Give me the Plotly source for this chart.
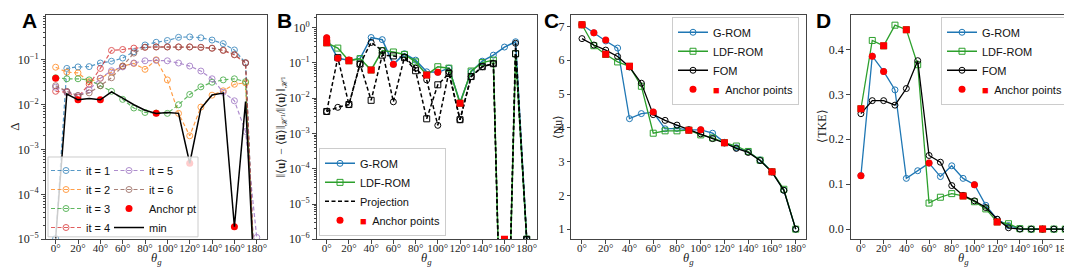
import plotly.graph_objects as go

W, H = 1072, 267

# ---------------- data ----------------
theta = list(range(0, 181, 10))
theta_ticks = list(range(0, 181, 20))
theta_labels = [f"{t}°" for t in theta_ticks]

# Panel A : Delta per iteration (log scale)
it1 = [1.05e-5, 0.063, 0.068, 0.069, 0.083, 0.091, 0.107, 0.148, 0.209, 0.240, 0.263, 0.309, 0.316, 0.302, 0.269, 0.224, 0.162, 0.083, 1e-7]
it2 = [0.067, 0.052, 0.050, 0.032, 0.038, 0.052, 0.071, 0.081, 0.060, 0.098, 0.035, 0.0063, 0.002, 0.0087, 0.016, 0.020, 0.028, 0.030, 1e-7]
it3 = [0.039, 0.037, 0.037, 0.035, 0.026, 0.0195, 0.0129, 0.0083, 0.0066, 0.0064, 0.0063, 0.0098, 0.0166, 0.0245, 0.031, 0.035, 0.037, 0.032, 1e-7]
it4 = [0.0195, 0.0186, 0.0145, 0.028, 0.063, 0.158, 0.166, 0.178, 0.186, 0.19, 0.19, 0.19, 0.19, 0.186, 0.178, 0.158, 0.126, 0.083, 1e-7]
it5 = [0.024, 0.019, 0.0155, 0.021, 0.038, 0.056, 0.068, 0.083, 0.093, 0.095, 0.093, 0.083, 0.071, 0.055, 0.037, 0.0186, 0.012, 0.0025, 1.1e-5]
it6 = [0.026, 0.0195, 0.0158, 0.018, 0.026, 0.039, 0.071, 0.138, 0.186, 0.188, 0.188, 0.188, 0.188, 0.184, 0.176, 0.160, 0.128, 0.085, 1e-7]
delta_min = [1.05e-5, 0.017, 0.0126, 0.0135, 0.0126, 0.019, 0.0138, 0.0098, 0.0074, 0.0063, 0.0066, 0.0063, 0.00049, 0.0081, 0.0162, 0.0178, 1.9e-5, 0.0115, 1e-7]
anchorA_theta = [0, 20, 40, 90, 120, 160]
anchorA_val = [0.038, 0.0126, 0.0126, 0.0063, 0.00049, 1.9e-5]

# Panel B : relative H1 error (log scale)
errB_grom = [0.51, 0.135, 0.12, 0.132, 0.525, 0.457, 0.091, 0.182, 0.12, 0.056, 0.054, 0.071, 0.0076, 0.056, 0.112, 0.166, 0.282, 0.398, 1e-6]
errB_ldf = [0.37, 0.263, 0.115, 0.132, 0.063, 0.224, 0.204, 0.174, 0.107, 0.0457, 0.078, 0.071, 0.0072, 0.059, 0.102, 0.12, 1e-13, 0.182, 1e-6]
errB_proj_ldf = [0.0042, 0.141, 0.0066, 0.093, 0.0087, 0.166, 0.158, 0.141, 0.060, 0.0026, 0.024, 0.050, 0.00245, 0.041, 0.078, 0.095, 1e-13, 0.182, 1e-6]
errB_proj_g = [0.0042, 0.0055, 0.0066, 0.093, 0.38, 0.224, 0.0079, 0.148, 0.071, 0.033, 0.0017, 0.056, 0.00245, 0.041, 0.078, 0.095, 1e-13, 0.36, 1e-6]

# anchor points (circles: G-ROM, squares: LDF-ROM)
anc_circ_theta = [0, 10, 20, 60, 100]
anc_sq_theta = [0, 20, 40, 90, 120, 160]
errB_anc_circ = [0.52, 0.135, 0.12, 0.091, 0.054]
errB_anc_sq = [0.37, 0.115, 0.063, 0.0457, 0.0072, 1e-6]

# Panel C : Nu
nu_fom = [6.64, 6.45, 6.30, 6.11, 5.80, 5.32, 4.39, 4.22, 4.08, 3.94, 3.82, 3.68, 3.55, 3.39, 3.27, 3.03, 2.69, 2.15, 1.0]
nu_grom = [7.05, 6.81, 6.57, 6.36, 4.27, 4.42, 4.46, 3.97, 3.98, 3.94, 3.94, 3.84, 3.57, 3.41, 3.29, 3.05, 2.70, 2.15, 1.0]
nu_ldf = [7.05, 6.43, 6.17, 5.95, 5.82, 5.23, 3.84, 3.91, 3.91, 3.93, 3.79, 3.70, 3.56, 3.46, 3.30, 3.04, 2.70, 2.18, 1.0]
nu_anc_circ = [7.05, 6.81, 6.60, 4.47, 3.94]
nu_anc_sq = [7.05, 6.18, 5.82, 3.93, 3.56, 2.70]

# Panel D : TKE
tke_fom = [0.257, 0.286, 0.286, 0.276, 0.313, 0.375, 0.164, 0.149, 0.097, 0.075, 0.063, 0.048, 0.022, 0.003, 0.0, 0.0, 0.0, 0.0, 0.0]
tke_grom = [0.119, 0.385, 0.351, 0.310, 0.113, 0.130, 0.147, 0.117, 0.141, 0.113, 0.099, 0.053, 0.022, 0.008, 0.001, 0.0, 0.0, 0.0, 0.0]
tke_ldf = [0.268, 0.420, 0.408, 0.454, 0.444, 0.366, 0.058, 0.071, 0.079, 0.074, 0.061, 0.045, 0.016, 0.012, 0.001, 0.0, 0.0, 0.0, 0.0]
tke_anc_circ = [0.119, 0.385, 0.351, 0.147, 0.099]
tke_anc_sq = [0.268, 0.408, 0.444, 0.074, 0.016, 0.0]

# ---------------- styling ----------------
C_BLUE, C_ORANGE, C_GREEN, C_RED, C_PURPLE, C_BROWN = "#1f77b4", "#ff7f0e", "#2ca02c", "#d62728", "#9467bd", "#8c564b"
ANCHOR = "#ff0000"
SANS = "Liberation Sans"
SERIF = "Liberation Serif"
ANCHOR_NAME = f'<span style="color:{ANCHOR}">■</span>  Anchor points'

fig = go.Figure()

# ---- Panel A
it_series = [(it1, C_BLUE, "it = 1", "legend"), (it2, C_ORANGE, "it = 2", "legend"),
             (it3, C_GREEN, "it = 3", "legend"), (it4, C_RED, "it = 4", "legend"),
             (it5, C_PURPLE, "it = 5", "legend2"), (it6, C_BROWN, "it = 6", "legend2")]
for vals, col, name, lg in it_series:
    fig.add_trace(go.Scatter(x=theta, y=vals, mode="lines+markers", name=name, legend=lg,
                             line=dict(color=col, width=1.2, dash="4px,2.5px"), opacity=0.75,
                             marker=dict(symbol="circle-open", size=6, color=col, line=dict(width=1)),
                             xaxis="x", yaxis="y"))
fig.add_trace(go.Scatter(x=anchorA_theta, y=anchorA_val, mode="markers", name="Anchor pt", legend="legend2",
                         marker=dict(symbol="circle", size=7, color=ANCHOR), xaxis="x", yaxis="y"))
fig.add_trace(go.Scatter(x=theta, y=delta_min, mode="lines", name="min", legend="legend2",
                         line=dict(color="black", width=1.5), xaxis="x", yaxis="y"))

# ---- Panel B
fig.add_trace(go.Scatter(x=theta, y=errB_grom, mode="lines+markers", name="G-ROM", legend="legend3",
                         line=dict(color=C_BLUE, width=1.5),
                         marker=dict(symbol="circle-open", size=6, color=C_BLUE, line=dict(width=1)),
                         xaxis="x2", yaxis="y2"))
fig.add_trace(go.Scatter(x=theta, y=errB_ldf, mode="lines+markers", name="LDF-ROM", legend="legend3",
                         line=dict(color=C_GREEN, width=1.5),
                         marker=dict(symbol="square-open", size=6, color=C_GREEN, line=dict(width=1)),
                         xaxis="x2", yaxis="y2"))
fig.add_trace(go.Scatter(x=theta, y=errB_proj_ldf, mode="lines", name="Projection", legend="legend3",
                         line=dict(color="black", width=1.5, dash="4px,2.5px"), xaxis="x2", yaxis="y2"))
fig.add_trace(go.Scatter(x=theta, y=errB_proj_ldf, mode="markers", showlegend=False,
                         marker=dict(symbol="square-open", size=6, color="black", line=dict(width=1)),
                         xaxis="x2", yaxis="y2"))
fig.add_trace(go.Scatter(x=theta, y=errB_proj_g, mode="lines+markers", showlegend=False,
                         line=dict(color="black", width=1.5, dash="4px,2.5px"),
                         marker=dict(symbol="circle-open", size=6, color="black", line=dict(width=1)),
                         xaxis="x2", yaxis="y2"))
fig.add_trace(go.Scatter(x=anc_circ_theta, y=errB_anc_circ, mode="markers", name=ANCHOR_NAME, legend="legend3",
                         marker=dict(symbol="circle", size=7, color=ANCHOR), xaxis="x2", yaxis="y2"))
fig.add_trace(go.Scatter(x=anc_sq_theta, y=errB_anc_sq, mode="markers", showlegend=False,
                         marker=dict(symbol="square", size=7, color=ANCHOR), xaxis="x2", yaxis="y2"))

# ---- Panels C and D
for (grom, ldf, fom, ac, asq, xa, ya, lg) in [
        (nu_grom, nu_ldf, nu_fom, nu_anc_circ, nu_anc_sq, "x3", "y3", "legend4"),
        (tke_grom, tke_ldf, tke_fom, tke_anc_circ, tke_anc_sq, "x4", "y4", "legend5")]:
    fig.add_trace(go.Scatter(x=theta, y=grom, mode="lines+markers", name="G-ROM", legend=lg,
                             line=dict(color=C_BLUE, width=1.3),
                             marker=dict(symbol="circle-open", size=6, color=C_BLUE, line=dict(width=1)),
                             xaxis=xa, yaxis=ya))
    fig.add_trace(go.Scatter(x=theta, y=ldf, mode="lines+markers", name="LDF-ROM", legend=lg,
                             line=dict(color=C_GREEN, width=1.3),
                             marker=dict(symbol="square-open", size=6, color=C_GREEN, line=dict(width=1)),
                             xaxis=xa, yaxis=ya))
    fig.add_trace(go.Scatter(x=theta, y=fom, mode="lines+markers", name="FOM", legend=lg,
                             line=dict(color="black", width=1.3),
                             marker=dict(symbol="circle-open", size=6, color="black", line=dict(width=1)),
                             xaxis=xa, yaxis=ya))
    fig.add_trace(go.Scatter(x=anc_circ_theta, y=ac, mode="markers", name=ANCHOR_NAME, legend=lg,
                             marker=dict(symbol="circle", size=7, color=ANCHOR), xaxis=xa, yaxis=ya))
    fig.add_trace(go.Scatter(x=anc_sq_theta, y=asq, mode="markers", showlegend=False,
                             marker=dict(symbol="square", size=7, color=ANCHOR), xaxis=xa, yaxis=ya))

# ---------------- layout ----------------
def px(v):
    return v / W

def py(v):
    return 1 - v / H

ydom = [py(237.5), py(7.5)]
axcol = "#444"
common = dict(showline=True, linecolor=axcol, linewidth=1, mirror=True, ticks="outside",
              ticklen=3.5, tickwidth=1, tickcolor=axcol, showgrid=False, zeroline=False,
              tickfont=dict(family=SERIF, size=12, color="#222"))

def xaxis(dom, anchor):
    return dict(common, domain=[px(dom[0]), px(dom[1])], anchor=anchor, range=[-9, 189],
                tickmode="array", tickvals=theta_ticks, ticktext=theta_labels, tickangle=0,
                ticklabelstandoff=-5,
                tickfont=dict(family=SERIF, size=11, color="#222"))

def logticks(lo, hi):
    vals = [10.0 ** e for e in range(lo, hi + 1)]
    txt = [f"10<sup>{'−' if e < 0 else ''}{abs(e)}</sup>" for e in range(lo, hi + 1)]
    minor = [k * 10.0 ** e for e in range(lo, hi + 1) for k in range(2, 10)]
    return vals, txt, minor

va, ta, ma = logticks(-5, -1)
vb, tb, mb = logticks(-6, 0)

fig.update_layout(
    width=W, height=H, margin=dict(l=0, r=0, t=0, b=0),
    paper_bgcolor="white", plot_bgcolor="white",
    font=dict(family=SANS, size=11, color="#222"),
    xaxis=xaxis((37.6, 258.8), "y"),
    xaxis2=xaxis((308.7, 528.7), "y2"),
    xaxis3=xaxis((563.3, 798.4), "y3"),
    xaxis4=xaxis((842.7, 1067.5), "y4"),
    yaxis=dict(common, domain=ydom, anchor="x", type="log", range=[-5, -0.02],
               tickmode="array", tickvals=va, ticktext=ta,
               minor=dict(tickmode="array", tickvals=ma, ticks="outside", ticklen=2, tickcolor=axcol)),
    yaxis2=dict(common, domain=ydom, anchor="x2", type="log", range=[-6, 0.35],
                tickmode="array", tickvals=vb, ticktext=tb,
                minor=dict(tickmode="array", tickvals=mb, ticks="outside", ticklen=2, tickcolor=axcol)),
    yaxis3=dict(common, domain=ydom, anchor="x3", range=[0.7, 7.33], dtick=1),
    yaxis4=dict(common, domain=ydom, anchor="x4", range=[-0.0226, 0.476], dtick=0.1, tickformat=".1f"),
)

leg_common = dict(font=dict(family=SANS, size=11, color="#111"), itemwidth=30,
                  bgcolor="rgba(255,255,255,0.8)", bordercolor="#cccccc", borderwidth=1,
                  tracegroupgap=0, traceorder="normal")
leg_clear = dict(leg_common, bgcolor="rgba(0,0,0,0)", borderwidth=0)
fig.update_layout(
    legend=dict(leg_clear, x=px(38), y=py(152), xanchor="left", yanchor="top"),
    legend2=dict(leg_clear, x=px(101), y=py(152), xanchor="left", yanchor="top"),
    legend3=dict(leg_common, x=px(311), y=py(234), xanchor="left", yanchor="bottom"),
    legend4=dict(leg_common, x=px(791), y=py(9), xanchor="right", yanchor="top"),
    legend5=dict(leg_common, x=px(1060), y=py(9), xanchor="right", yanchor="top"),
)

# box behind the two-column legend of panel A
fig.add_shape(type="rect", xref="paper", yref="paper", x0=px(40), x1=px(190), y0=py(235), y1=py(153),
              line=dict(color="#cccccc", width=1), fillcolor="rgba(255,255,255,0.8)", layer="above")

# panel letters
for letter, xl in [("A", 12), ("B", 267), ("C", 534), ("D", 806)]:
    fig.add_annotation(text=f"<b>{letter}</b>", x=px(xl), y=py(12.5), xref="paper", yref="paper",
                       xanchor="left", yanchor="middle", showarrow=False,
                       font=dict(family=SANS, size=21, color="black"))

# x axis titles
for xr in ["x", "x2", "x3", "x4"]:
    fig.add_annotation(text="<i>θ</i><sub><i>g</i></sub>", x=0.5, xref=f"{xr} domain", y=py(257.5), yref="paper",
                       xanchor="center", yanchor="middle", showarrow=False,
                       font=dict(family=SERIF, size=12.5, color="#222"))

# y axis titles
ytitles = [("Δ", 7, 13),
           ("‖⟨<b>u</b>⟩ − ⟨<b>ũ</b>⟩‖<sub>ℋ¹</sub>/‖⟨<b>u</b>⟩‖<sub>ℋ¹</sub>", 273.5, 11.5),
           ("⟨Nu⟩", 549.5, 12),
           ("⟨TKE⟩", 814, 12)]
for txt, xc, fs in ytitles:
    fig.add_annotation(text=txt, x=px(xc), y=py(122), xref="paper", yref="paper", textangle=-90,
                       xanchor="center", yanchor="middle", showarrow=False,
                       font=dict(family=SERIF, size=fs, color="#222"))

fig.write_html("out.html")
